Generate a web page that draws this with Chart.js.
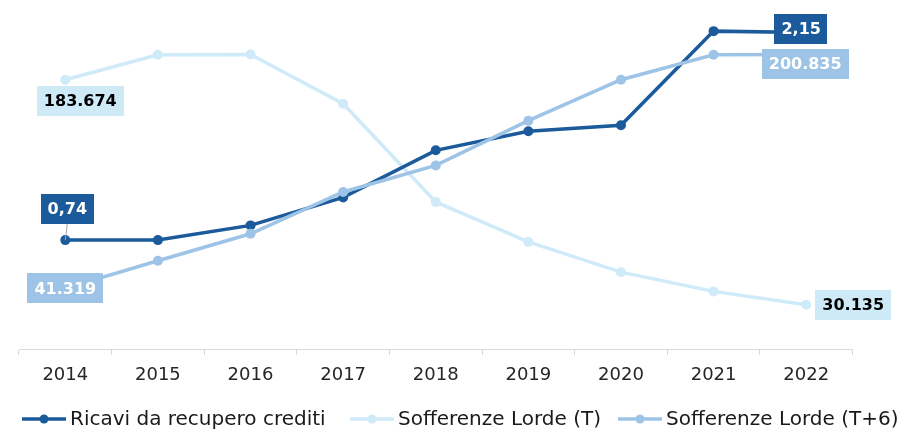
<!DOCTYPE html>
<html>
<head>
<meta charset="utf-8">
<script src="https://cdn.jsdelivr.net/npm/chart.js@4/dist/chart.umd.min.js"></script>
<style>
html,body{margin:0;padding:0;background:#ffffff;}
#wrap{position:relative;width:897px;height:431px;}
</style>
</head>
<body>
<div id="wrap"><canvas id="c"></canvas></div>
<script>
// ---- data ----
const years = ['2014','2015','2016','2017','2018','2019','2020','2021','2022'];
const ricavi = [0.74, 0.74, 0.84, 1.03, 1.35, 1.48, 1.52, 2.16, 2.15];
const sofferenzeT = [183674, 200700, 200835, 167300, 100300, 73000, 52400, 39300, 30135];
const sofferenzeT6 = [41319, 60200, 78600, 107100, 125200, 155700, 183674, 200700, 200835];
const seriesNames = ['Ricavi da recupero crediti', 'Sofferenze Lorde (T)', 'Sofferenze Lorde (T+6)'];

// ---- styles ----
const COL_DARK = '#1b5a9b';
const COL_CYAN = '#cfeaf8';
const COL_MED = '#9dc3e6';
const FONT = '"DejaVu Sans", sans-serif';

const fmtRicavi = v => v.toFixed(2).replace('.', ',');
const fmtSoff = v => String(Math.round(v)).replace(/\B(?=(\d{3})+(?!\d))/g, '.');

const labelStyle = [
  {bg: COL_DARK, fg: '#ffffff', fmt: fmtRicavi, first: {dx: 2, dy: -31, leader: true}, last: {dx: -5, dy: -4}},
  {bg: '#cfeaf7', fg: '#000000', fmt: fmtSoff, first: {dx: 15, dy: 21}, last: {dx: 47, dy: 0}},
  {bg: COL_MED, fg: '#ffffff', fmt: fmtSoff, first: {dx: 0, dy: 0}, last: {dx: -1, dy: 9}}
];
const legendStyle = {xs: [22, 350, 618], y: 419, lineLen: 44, gap: 4};
const seriesColors = [COL_DARK, COL_CYAN, COL_MED];

const endLabels = {
  id: 'endLabels',
  afterDatasetsDraw(chart) {
    const ctx = chart.ctx;
    ctx.save();
    ctx.font = 'bold 16px ' + FONT;
    ctx.textAlign = 'center';
    ctx.textBaseline = 'middle';
    chart.data.datasets.forEach((ds, di) => {
      const meta = chart.getDatasetMeta(di);
      const st = labelStyle[di];
      const idxs = [0, ds.data.length - 1];
      idxs.forEach((idx, k) => {
        const el = meta.data[idx];
        const o = k === 0 ? st.first : st.last;
        const txt = st.fmt(ds.data[idx]);
        const tw = ctx.measureText(txt).width;
        const w = tw + 14, h = 30;
        const cx = el.x + o.dx, cy = el.y + o.dy;
        if (o.leader) {
          ctx.strokeStyle = '#a6a6a6';
          ctx.lineWidth = 1;
          ctx.beginPath();
          ctx.moveTo(cx, cy + h / 2);
          ctx.lineTo(el.x, el.y);
          ctx.stroke();
        }
        ctx.fillStyle = st.bg;
        ctx.fillRect(Math.round(cx - w / 2), Math.round(cy - h / 2), Math.round(w), h);
        ctx.fillStyle = st.fg;
        ctx.fillText(txt, cx, cy + 1);
      });
    });
    ctx.restore();
  }
};

const customLegend = {
  id: 'customLegend',
  afterDraw(chart) {
    const ctx = chart.ctx;
    ctx.save();
    ctx.font = '20px ' + FONT;
    ctx.textAlign = 'left';
    ctx.textBaseline = 'middle';
    seriesNames.forEach((name, i) => {
      const x0 = legendStyle.xs[i], y = legendStyle.y;
      ctx.strokeStyle = seriesColors[i];
      ctx.lineWidth = 3.5;
      ctx.beginPath();
      ctx.moveTo(x0, y);
      ctx.lineTo(x0 + legendStyle.lineLen, y);
      ctx.stroke();
      ctx.fillStyle = seriesColors[i];
      ctx.beginPath();
      ctx.arc(x0 + legendStyle.lineLen / 2, y, 4.5, 0, Math.PI * 2);
      ctx.fill();
      ctx.fillStyle = '#1a1a1a';
      ctx.fillText(name, x0 + legendStyle.lineLen + legendStyle.gap, y + 1);
    });
    ctx.restore();
  }
};

const mkDs = (label, data, color, axis, order) => ({
  label, data, yAxisID: axis, order,
  borderColor: color, backgroundColor: color,
  pointBackgroundColor: color, pointBorderColor: color,
  borderWidth: 3.5, pointRadius: 5, pointBorderWidth: 0, pointHoverRadius: 5,
  tension: 0, fill: false
});

new Chart(document.getElementById('c'), {
  type: 'line',
  data: {
    labels: years,
    datasets: [
      mkDs(seriesNames[0], ricavi, COL_DARK, 'yR', 1),
      mkDs(seriesNames[1], sofferenzeT, COL_CYAN, 'yS', 2),
      mkDs(seriesNames[2], sofferenzeT6, COL_MED, 'yS', 0)
    ]
  },
  options: {
    responsive: true,
    maintainAspectRatio: false,
    animation: false,
    layout: {padding: {top: 20, left: 19, right: 44.5, bottom: 42}},
    plugins: {legend: {display: false}, tooltip: {enabled: false}},
    scales: {
      x: {
        offset: true,
        grid: {offset: true, drawOnChartArea: false, drawTicks: true, tickLength: 6, color: '#d9d9d9', lineWidth: 1},
        border: {display: true, color: '#d9d9d9', width: 1},
        ticks: {color: '#262626', font: {family: FONT, size: 18}, padding: 10, maxRotation: 0},
        afterFit(s) { s.height = 40; }
      },
      yR: {display: false, min: 0, max: 2.2356},
      yS: {display: false, min: 0, max: 224390}
    }
  },
  plugins: [endLabels, customLegend]
});
</script>
</body>
</html>
